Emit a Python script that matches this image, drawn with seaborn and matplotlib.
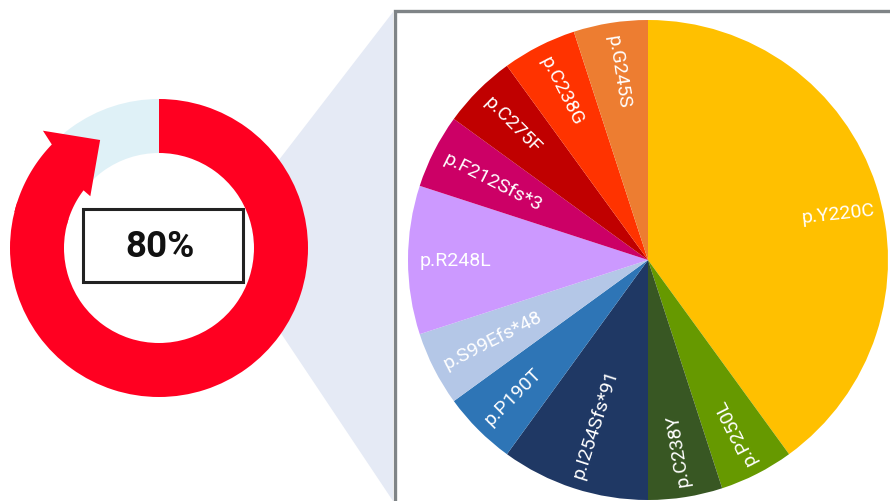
import numpy as np
import matplotlib
matplotlib.use("Agg")
import matplotlib.pyplot as plt
from matplotlib.patches import Polygon, Rectangle, Circle
import seaborn as sns

# ---------------- data ----------------
overall_pct = 80
donut_labels = ["mutated", "other"]
mutations = ["p.Y220C", "p.P250L", "p.C238Y", "p.I254Sfs*91", "p.P190T",
             "p.S99Efs*48", "p.R248L", "p.F212Sfs*3", "p.C275F", "p.C238G", "p.G245S"]
shares = [40, 5, 5, 10, 5, 5, 10, 5, 5, 5, 5]

# ---------------- style ----------------
sns.set_style("white")
plt.rcParams['font.family'] = ['Roboto', 'DejaVu Sans']

pie_colors = ["#FFC000", "#669900", "#385723", "#1F3864", "#2E75B6",
              "#B4C7E7", "#CC99FF", "#CC0066", "#C00000", "#FF3300", "#ED7D31"]
red = "#FF0021"
light_blue = "#DFF1F7"
lavender = "#E5EAF5"

W, H = 890, 502
fig = plt.figure(figsize=(W / 100, H / 100), dpi=100)
ax = fig.add_axes([0, 0, 1, 1])

# donut geometry (pixel units, y up)
dc = (159, 253)
d_out, d_in = 149, 95
# pie geometry
pc = (648, 241)
pr = 240

# connector (zoom) band
ax.add_patch(Polygon([(393, 489), (393, 0), (218, 262)], closed=True,
                     facecolor=lavender, edgecolor="none", zorder=0))
ax.add_patch(Circle(dc, d_in, facecolor="white", edgecolor="none", zorder=0.5))

# frame around pie
ax.add_patch(Rectangle((395, -10), 520, 500.5, fill=False, edgecolor="#7F8487",
                       linewidth=2.4, zorder=1))

# donut
ax.pie([overall_pct, 100 - overall_pct], colors=[red, light_blue], startangle=90,
       counterclock=False, radius=d_out, center=dc,
       wedgeprops=dict(width=d_out - d_in, edgecolor="none"), frame=True)


def pol(r, a):
    t = np.deg2rad(a)
    return (dc[0] + r * np.cos(t), dc[1] + r * np.sin(t))


end_ang = 90 - 360 * overall_pct / 100 + 360  # 162
start = end_ang + 4  # overlap to avoid a seam
pts = [pol(d_out, a) for a in np.linspace(start, 136, 24)]
pts += [pol(165, 134.7), pol(123, 118.6), pol(86, 143), pol(95.5, 142.6)]
pts += [pol(d_in, a) for a in np.linspace(142.6, start, 24)]
ax.add_patch(Polygon(pts, closed=True, facecolor=red, edgecolor="none", zorder=3))

# percentage box
ax.add_patch(Rectangle((83, 219), 160, 73, facecolor="white", edgecolor="#222222",
                       linewidth=2.2, zorder=4))
ax.text(160, 255, f"{overall_pct}%", ha="center", va="center", fontsize=26.5,
        fontweight="bold", color="#111111", zorder=5)

# pie of mutations
wedges, _ = ax.pie(shares, colors=pie_colors, startangle=90, counterclock=False,
                   radius=pr, center=pc, wedgeprops=dict(edgecolor="none"), frame=True)
for i, (w, lab) in enumerate(zip(wedges, mutations)):
    mid = (w.theta1 + w.theta2) / 2
    if i == 0:
        t = np.deg2rad(13.9)
        ax.text(pc[0] + 0.815 * pr * np.cos(t), pc[1] + 0.815 * pr * np.sin(t), lab,
                ha="center", va="center", rotation=6, rotation_mode="anchor",
                color="white", fontsize=14, zorder=5)
    else:
        t = np.deg2rad(mid)
        ax.text(pc[0] + 0.95 * pr * np.cos(t), pc[1] + 0.95 * pr * np.sin(t), lab,
                ha="left", va="center", rotation=mid + 180, rotation_mode="anchor",
                color="white", fontsize=14, zorder=5)

ax.set_xlim(0, W)
ax.set_ylim(0, H)
ax.set_aspect("equal")
ax.axis("off")
fig.savefig("out.png", dpi=100, facecolor="white")
